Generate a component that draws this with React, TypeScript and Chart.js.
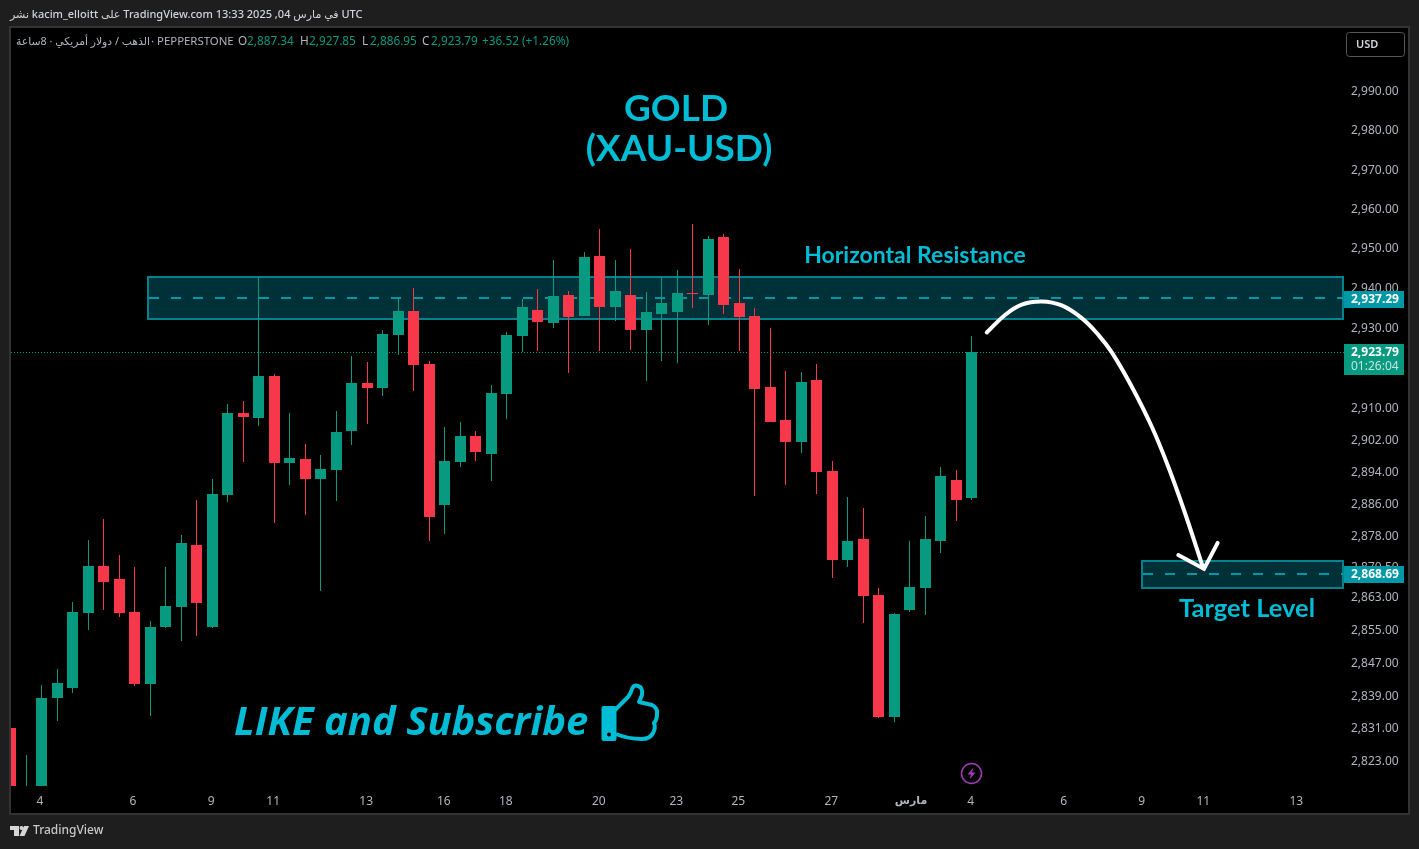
import { useEffect, useRef } from "react";
import { Chart, registerables } from "chart.js";

Chart.register(...registerables);

// 8h candles, index 0 is the partly hidden candle on the left edge
const opens = [2831.0, 2808.0, 2815.0, 2838.3, 2840.7, 2859.1, 2870.6, 2867.4, 2859.3, 2841.7, 2855.6, 2860.5, 2875.8, 2855.6, 2888.2, 2908.6, 2907.3, 2917.8, 2896.1, 2897.1, 2892.1, 2894.3, 2904.0, 2916.0, 2914.8, 2928.0, 2934.2, 2920.8, 2885.7, 2896.3, 2902.8, 2898.4, 2913.3, 2927.8, 2934.4, 2931.1, 2938.2, 2932.9, 2948.0, 2935.0, 2938.2, 2929.3, 2933.4, 2933.9, 2938.6, 2938.2, 2952.8, 2936.0, 2932.9, 2915.0, 2906.8, 2901.3, 2916.8, 2894.1, 2872.1, 2877.3, 2863.5, 2833.7, 2859.8, 2865.2, 2876.8, 2891.9, 2887.34];
const highs = [2831.0, 2824.5, 2841.5, 2845.4, 2861.8, 2877.1, 2882.2, 2873.3, 2870.4, 2857.1, 2870.4, 2878.3, 2886.9, 2892.1, 2910.8, 2911.5, 2942.6, 2918.3, 2908.6, 2900.8, 2898.0, 2909.0, 2922.8, 2921.3, 2929.3, 2937.0, 2939.9, 2921.5, 2905.0, 2906.3, 2904.0, 2915.5, 2928.8, 2937.0, 2939.6, 2947.0, 2939.2, 2949.0, 2954.8, 2947.0, 2949.7, 2938.9, 2942.7, 2944.4, 2956.1, 2953.0, 2953.5, 2944.7, 2934.8, 2929.8, 2919.0, 2918.8, 2920.8, 2896.6, 2887.7, 2884.9, 2865.2, 2859.1, 2876.8, 2883.0, 2895.1, 2894.4, 2927.85];
const lows = [2810.0, 2805.0, 2810.0, 2832.7, 2839.5, 2854.9, 2859.8, 2858.0, 2841.2, 2833.9, 2855.5, 2852.2, 2853.4, 2855.5, 2886.4, 2896.3, 2905.3, 2881.2, 2890.6, 2883.2, 2864.5, 2886.7, 2900.6, 2905.8, 2912.8, 2923.1, 2914.0, 2876.8, 2878.5, 2895.1, 2896.6, 2891.6, 2907.0, 2923.9, 2924.1, 2929.8, 2918.5, 2932.9, 2924.1, 2931.6, 2924.3, 2916.5, 2921.5, 2921.0, 2934.8, 2930.6, 2933.4, 2924.1, 2887.9, 2906.2, 2890.6, 2898.6, 2888.4, 2867.7, 2870.4, 2856.6, 2833.4, 2832.4, 2859.3, 2858.6, 2873.8, 2881.7, 2886.95];
const closes = [2815.0, 2816.0, 2838.3, 2841.95, 2859.3, 2870.6, 2866.7, 2859.1, 2841.7, 2855.6, 2860.8, 2876.3, 2861.5, 2888.4, 2908.6, 2907.6, 2917.8, 2896.1, 2897.3, 2892.1, 2894.6, 2903.7, 2916.0, 2914.8, 2928.3, 2934.2, 2920.5, 2882.7, 2896.6, 2902.8, 2898.8, 2913.5, 2928.0, 2935.2, 2931.3, 2938.0, 2932.7, 2947.7, 2935.0, 2939.2, 2929.3, 2933.9, 2936.0, 2938.6, 2938.4, 2952.2, 2935.7, 2932.7, 2914.6, 2906.3, 2901.3, 2916.3, 2893.9, 2872.1, 2876.8, 2863.2, 2833.7, 2858.9, 2865.4, 2877.3, 2892.9, 2886.9, 2923.79];

const yTickValues = [2990, 2980, 2970, 2960, 2950, 2940, 2930, 2910, 2902, 2894, 2886, 2878, 2870.5, 2863, 2855, 2847, 2839, 2831, 2823];
const xTickIndex = [1.9, 7.9, 12.95, 16.95, 22.95, 27.95, 31.95, 37.95, 42.95, 46.95, 52.95, 58.1, 61.95, 67.95, 72.97, 76.95, 82.95];
const xTickLabels = ["4", "6", "9", "11", "13", "16", "18", "20", "23", "25", "27", "مارس", "4", "6", "9", "11", "13"];

// drawn annotations, in bar index / price
const resistanceZone = [8.87, 85.97, 2942.6, 2932.0];
const targetZone = [72.97, 85.97, 2871.8, 2865.2];
const resistanceLine = 2937.29;
const targetLine = 2868.69;
const lastPrice = 2923.79;
const arrowX = [62.98, 64.16, 65.24, 66.53, 67.82, 69.11, 70.18, 71.05, 72.34, 73.63, 74.7, 75.77, 76.95];
const arrowY = [2928.7, 2933.1, 2935.7, 2936.5, 2935.5, 2932.3, 2928.1, 2923.7, 2915.1, 2905.1, 2895.1, 2883.7, 2870.05];
const arrowHeadX = [75.34, 77.0, 77.88];
const arrowHeadY = [2873.3, 2869.9, 2876.3];

const UP = "#089981";
const DOWN = "#f7374a";
const CYAN = "#00bcd4";
const TEXT = "#b2b5be";
const UI_FONT = '"Noto Sans", "DejaVu Sans", sans-serif';
const TITLE_FONT = 'Lato, "Noto Sans", sans-serif';

function text(ctx: CanvasRenderingContext2D, str: string, x: number, y: number, font: string, color: string, align: CanvasTextAlign = "left") {
  ctx.font = font;
  ctx.fillStyle = color;
  ctx.textAlign = align;
  ctx.textBaseline = "middle";
  ctx.fillText(str, x, y);
}

function drawZone(ctx: CanvasRenderingContext2D, chart: any, zone: number[], mid: number) {
  const { x, y } = chart.scales;
  const l = Math.round(x.getPixelForValue(zone[0]));
  const r = Math.round(x.getPixelForValue(zone[1]));
  const t = Math.round(y.getPixelForValue(zone[2]));
  const b = Math.round(y.getPixelForValue(zone[3]));
  ctx.fillStyle = "#003038";
  ctx.fillRect(l, t, r - l, b - t);
  ctx.strokeStyle = "#00838f";
  ctx.lineWidth = 2;
  ctx.strokeRect(l, t, r - l, b - t);
  const m = Math.round(y.getPixelForValue(mid));
  ctx.strokeStyle = "#0097a7";
  ctx.setLineDash([10, 12]);
  ctx.beginPath();
  ctx.moveTo(l + 1, m);
  ctx.lineTo(r, m);
  ctx.stroke();
  ctx.setLineDash([]);
}

function drawThumb(ctx: CanvasRenderingContext2D) {
  ctx.fillStyle = CYAN;
  ctx.beginPath();
  ctx.roundRect(601.5, 706, 15, 35, 2);
  ctx.fill();
  ctx.strokeStyle = CYAN;
  ctx.lineWidth = 4;
  ctx.lineJoin = "round";
  ctx.beginPath();
  ctx.moveTo(615, 710);
  ctx.lineTo(628, 697);
  ctx.quadraticCurveTo(631, 693, 632, 689);
  ctx.quadraticCurveTo(634, 684, 638, 686);
  ctx.quadraticCurveTo(643, 687, 642, 695);
  ctx.lineTo(639, 702);
  ctx.lineTo(652, 705);
  ctx.quadraticCurveTo(658, 708, 657, 714);
  ctx.quadraticCurveTo(657, 720, 654, 723);
  ctx.quadraticCurveTo(656, 728, 653, 733);
  ctx.quadraticCurveTo(650, 739, 642, 739);
  ctx.quadraticCurveTo(628, 739, 616, 734);
  ctx.stroke();
  ctx.fillStyle = "#000";
  ctx.beginPath();
  ctx.arc(609, 734.5, 2, 0, Math.PI * 2);
  ctx.fill();
}

function drawLogo(ctx: CanvasRenderingContext2D) {
  ctx.fillStyle = "#d6d6d6";
  ctx.fillRect(10, 826, 9, 4);
  ctx.fillRect(14, 826, 5, 10);
  ctx.beginPath();
  ctx.arc(21.5, 828, 2, 0, Math.PI * 2);
  ctx.fill();
  ctx.beginPath();
  ctx.moveTo(24, 826);
  ctx.lineTo(29, 826);
  ctx.lineTo(24.5, 836);
  ctx.lineTo(19.5, 836);
  ctx.closePath();
  ctx.fill();
}

const chromePlugin = {
  id: "chrome",
  afterDatasetsUpdate(chart: any) {
    // snap candles to whole pixels so the bodies stay crisp
    chart.getSortedVisibleDatasetMetas().forEach((meta: any) => {
      if (meta.type !== "bar") return;
      meta.data.forEach((el: any) => {
        el.x = Math.ceil(el.x - 1e-6) - 0.5;
        el.y = Math.round(el.y);
        el.base = Math.round(el.base);
      });
    });
  },
  beforeDraw(chart: any) {
    const ctx = chart.ctx;
    ctx.save();
    ctx.fillStyle = "#1e1e1e";
    ctx.fillRect(0, 0, 1419, 849);
    ctx.fillStyle = "#000";
    ctx.fillRect(10, 27, 1399, 787);
    ctx.strokeStyle = "#333";
    ctx.lineWidth = 2;
    ctx.strokeRect(10, 27, 1399, 787);
    ctx.restore();
  },
  beforeDatasetsDraw(chart: any) {
    const ctx = chart.ctx;
    const { left, right } = chart.chartArea;
    ctx.save();
    const py = Math.round(chart.scales.y.getPixelForValue(lastPrice)) + 0.5;
    ctx.strokeStyle = UP;
    ctx.lineWidth = 1;
    ctx.setLineDash([1, 2]);
    ctx.beginPath();
    ctx.moveTo(left, py);
    ctx.lineTo(right, py);
    ctx.stroke();
    ctx.setLineDash([]);
    drawZone(ctx, chart, resistanceZone, resistanceLine);
    drawZone(ctx, chart, targetZone, targetLine);
    ctx.restore();
  },
  afterDraw(chart: any) {
    const ctx = chart.ctx;
    ctx.save();
    // publisher line
    text(ctx, "نشر kacim_elloitt على TradingView.com 13:33 2025 ,04 في مارس UTC", 10, 15, `500 11px ${UI_FONT}`, "#d1d4dc");

    // legend row
    const legend = `11.8px ${UI_FONT}`;
    ctx.direction = "rtl";
    text(ctx, "الذهب / دولار أمريكي · 8ساعة", 150, 42, `10.8px ${UI_FONT}`, TEXT, "right");
    ctx.direction = "ltr";
    text(ctx, "· PEPPERSTONE", 151, 42, `11.4px ${UI_FONT}`, TEXT);
    [["O", 238, "2,887.34", 247], ["H", 300, "2,927.85", 309], ["L", 362, "2,886.95", 370], ["C", 422, "2,923.79", 431]].forEach((p: any) => {
      text(ctx, p[0], p[1], 42, legend, TEXT);
      text(ctx, p[2], p[3], 42, legend, UP);
    });
    text(ctx, "+36.52 (+1.26%)", 482, 42, legend, UP);

    // USD button
    ctx.strokeStyle = "#555";
    ctx.lineWidth = 1;
    ctx.beginPath();
    ctx.roundRect(1346.5, 32.5, 58, 24, 3);
    ctx.stroke();
    text(ctx, "USD", 1356, 44.5, `600 11px ${UI_FONT}`, "#d1d4dc");

    // chart titles
    text(ctx, "GOLD", 676, 109, `700 37px ${TITLE_FONT}`, CYAN, "center");
    text(ctx, "(XAU-USD)", 679, 149, `700 37px ${TITLE_FONT}`, CYAN, "center");
    text(ctx, "Horizontal Resistance", 915, 256, `700 23px ${TITLE_FONT}`, CYAN, "center");
    text(ctx, "Target Level", 1247, 609, `700 25.5px ${TITLE_FONT}`, CYAN, "center");
    text(ctx, "LIKE and Subscribe", 234, 724, `italic 700 40px "Open Sans", ${TITLE_FONT}`, CYAN);
    drawThumb(ctx);

    // lightning marker
    ctx.strokeStyle = "#a03bb5";
    ctx.lineWidth = 1.5;
    ctx.beginPath();
    ctx.arc(971.5, 773.5, 10, 0, Math.PI * 2);
    ctx.stroke();
    ctx.fillStyle = "#a03bb5";
    ctx.beginPath();
    ctx.moveTo(973.5, 767.5);
    ctx.lineTo(967.5, 774.5);
    ctx.lineTo(971, 774.5);
    ctx.lineTo(969.5, 779.5);
    ctx.lineTo(975.5, 772.5);
    ctx.lineTo(972, 772.5);
    ctx.closePath();
    ctx.fill();

    // price tags on the axis
    const tag = `700 12px ${UI_FONT}`;
    ctx.fillStyle = "#0097a7";
    ctx.fillRect(1344, 291, 60, 17);
    text(ctx, "2,937.29", 1351, 299.5, tag, "#fff");
    ctx.fillStyle = "#0097a7";
    ctx.fillRect(1344, 566, 60, 17);
    text(ctx, "2,868.69", 1351, 574.5, tag, "#fff");
    ctx.fillStyle = UP;
    ctx.fillRect(1344, 344, 60, 31);
    text(ctx, "2,923.79", 1351, 352.5, tag, "#fff");
    text(ctx, "01:26:04", 1351, 366.5, `12px ${UI_FONT}`, "rgba(255,255,255,0.75)");

    // footer
    drawLogo(ctx);
    text(ctx, "TradingView", 33, 831, `500 12px ${UI_FONT}`, "#c8c8c8");
    ctx.restore();
  },
};

export default function App() {
  const chartRef = useRef<HTMLCanvasElement>(null);

  useEffect(() => {
    if (!chartRef.current) return;

    const candleColors = closes.map((c, i) => (c >= opens[i] ? UP : DOWN));

    const chart = new Chart(chartRef.current, {
      type: "bar",
      data: {
        datasets: [
          {
            type: "line",
            data: arrowX.map((x, i) => ({ x, y: arrowY[i] })),
            borderColor: "#fff",
            borderWidth: 4,
            borderCapStyle: "round",
            tension: 0.4,
            pointRadius: 0,
            order: 1,
          },
          {
            type: "line",
            data: arrowHeadX.map((x, i) => ({ x, y: arrowHeadY[i] })),
            borderColor: "#fff",
            borderWidth: 4,
            borderCapStyle: "round",
            borderJoinStyle: "miter",
            tension: 0,
            pointRadius: 0,
            order: 1,
          },
          {
            data: opens.map((o, i) => ({ x: i, y: [o, closes[i]] })),
            backgroundColor: candleColors,
            barThickness: 11,
            grouped: false,
            inflateAmount: 0,
            order: 3,
          },
          {
            data: lows.map((l, i) => ({ x: i, y: [l, highs[i]] })),
            backgroundColor: candleColors,
            barThickness: 1,
            grouped: false,
            inflateAmount: 0,
            order: 4,
          },
        ] as any,
      },
      options: {
        animation: false,
        responsive: false,
        devicePixelRatio: 1,
        layout: { padding: { left: 11, top: 28, right: 10, bottom: 36 } },
        plugins: { legend: { display: false }, tooltip: { enabled: false } },
        scales: {
          x: {
            type: "linear",
            offset: false,
            min: 0.032,
            max: 86.03,
            grid: { display: false, drawTicks: false },
            border: { display: false },
            afterFit: (s: any) => { s.height = 27; },
            afterBuildTicks: (s: any) => { s.ticks = xTickIndex.map((value) => ({ value })); },
            ticks: {
              autoSkip: false,
              maxRotation: 0,
              padding: 8,
              color: TEXT,
              font: (c: any) => (c.index === 11 ? { family: UI_FONT, size: 11, weight: "bold" } : { family: UI_FONT, size: 12 }),
              callback: (_v: any, i: number) => xTickLabels[i],
            },
          },
          y: {
            type: "logarithmic",
            position: "right",
            min: 2816.95,
            max: 3006.2,
            grid: { display: false, drawTicks: false },
            border: { display: false },
            afterFit: (s: any) => { s.width = 65; },
            afterBuildTicks: (s: any) => { s.ticks = yTickValues.map((value) => ({ value })); },
            ticks: {
              autoSkip: false,
              padding: 7,
              labelOffset: 1,
              color: TEXT,
              font: { family: UI_FONT, size: 12 },
              callback: (v: any) => Number(v).toLocaleString("en-US", { minimumFractionDigits: 2, maximumFractionDigits: 2 }),
            },
          },
        },
      } as any,
      plugins: [chromePlugin],
    });

    return () => {
      chart.destroy();
    };
  }, []);

  return (
    <div style={{ position: "fixed", left: 0, top: 0, width: 1419, height: 849, overflow: "hidden" }}>
      <canvas ref={chartRef} width={1419} height={849} style={{ display: "block" }} />
    </div>
  );
}
